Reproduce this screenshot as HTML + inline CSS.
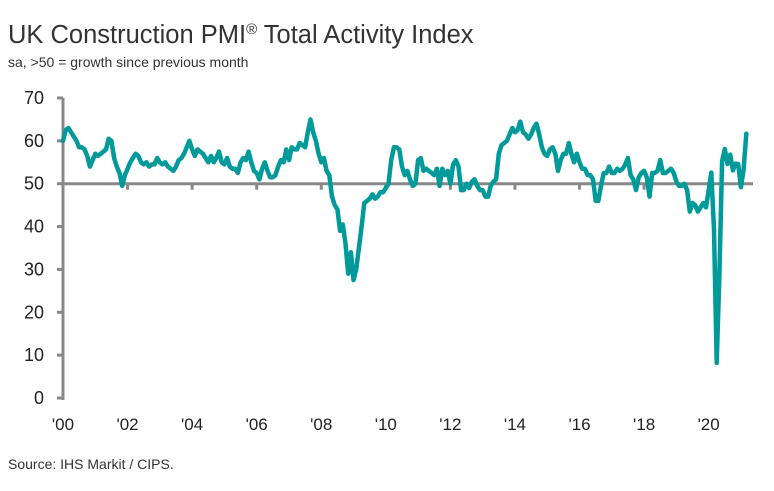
<!DOCTYPE html>
<html><head><meta charset="utf-8"><style>
body{margin:0;background:#fff;width:774px;height:486px;overflow:hidden;font-family:"Liberation Sans",sans-serif;}
</style></head><body>
<svg width="774" height="486">
<text x="8" y="43" font-size="25.5" fill="#333">UK Construction PMI<tspan font-size="15" dy="-9">®</tspan><tspan dy="9"> Total Activity Index</tspan></text>
<text x="8" y="67" font-size="14" fill="#333">sa, &gt;50 = growth since previous month</text>
<text x="8" y="469" font-size="14" fill="#333">Source: IHS Markit / CIPS.</text>
<g id="axes"></g>
<g id="plot"></g>
</svg>
<script>
const yTicks=[0,10,20,30,40,50,60,70];
const xTickLabels=["'00","'02","'04","'06","'08","'10","'12","'14","'16","'18","'20"];
const pmi=[
60,62.5,63,62,61,60,58.5,58.5,58,56.5,54,55.5,
57,56.5,57,57.5,58,60.5,60,56,54,52.5,49.5,52,
53.5,55,56,57,56.5,55,54.5,55,54,54.5,54.5,56,
55,54.5,55,54,53.5,53,54,55.5,56,57,58.5,60,
58,56.5,58,57.5,57,56,55,56.5,55,56,57.5,55,
54.5,56,54,53.5,53.5,52.5,55,56,55.5,57.5,55,53,
52.5,51,53.5,55,53,51.5,51.5,52,54,55.5,55,58,
55.5,58.5,58,58,59.5,59,58.5,62,65,62,60,57,
55,56,53,52,47,45,44,39,40.5,36,29,34,
27.5,30,35,40,45.5,46,46.5,47.5,46.5,47,48,48,
49,50,55.5,58.5,58.5,58,54,52,53,51,49.5,50,
55.5,56,53,53.5,53,52.5,52,53.5,49.5,53.5,52,53,
50,54.5,55.5,54,48.5,48.5,50,49,50.5,51,49.5,48.5,
48.5,47,47,49.5,50.5,51,57,59,59.5,60,61.5,63,
62,62.5,64.5,62,61.5,60.5,61.5,63,64,61.5,58.5,57,
56.5,58,58.5,57,53,55.5,57,57,59.5,57,55,57,
55,53.5,53.5,52,52,51,46,46,49.5,52.5,52.5,54,
52.5,52.5,53.5,53,53.5,54.5,56,52,51,48.5,51.5,52.5,
53,51.5,47,52.5,52.5,53,55.5,52.5,52.5,53,53.5,52.5,
50.5,49.5,49.5,50,48.5,43.5,45.5,45,43.5,44.5,45.5,44.5,
48.4,52.6,39.3,8.2,28.9,55.3,58.1,54.6,56.8,53.1,54.7,54.6,
49.2,53.3,61.7];
const NS='http://www.w3.org/2000/svg';
const X0=63,X1=749,Y0=398,Y70=98;
const x=i=>X0+i*(X1-X0)/255;
const y=v=>Y0-v*(Y0-Y70)/70;
const ax=document.getElementById('axes'),pl=document.getElementById('plot');
function mk(t,a,p){const e=document.createElementNS(NS,t);for(const k in a)e.setAttribute(k,a[k]);p.appendChild(e);return e;}
let e=mk('line',{x1:X0,y1:y(70),x2:X0,y2:Y0+2,stroke:'#888','stroke-width':3},ax);


yTicks.forEach(v=>{
 let t=mk('line',{x1:X0-6,y1:y(v),x2:X0,y2:y(v),stroke:'#888','stroke-width':3},ax);
 
 
 let l=mk('text',{x:44,y:y(v)+6,'font-size':18,fill:'#222','text-anchor':'end'},ax);
 l.textContent=v;
 
 
});
e=mk('line',{x1:X0,y1:y(50),x2:753,y2:y(50),stroke:'#888','stroke-width':3},ax);


xTickLabels.forEach((s,k)=>{
 const xi=x(k*24);
 let t=mk('line',{x1:xi,y1:y(50),x2:xi,y2:y(50)+6,stroke:'#888','stroke-width':3},ax);
 
 
 let l=mk('text',{x:xi,y:430,'font-size':17,fill:'#222','text-anchor':'middle'},ax);
 l.textContent=s;
 
 
});
const d=pmi.map((v,i)=>(i?'L':'M')+x(i).toFixed(1)+','+y(v).toFixed(1)).join('');
const p=mk('path',{d:d,fill:'none',stroke:'#009a9a','stroke-width':4.5,'stroke-linejoin':'round','stroke-linecap':'round'},pl);


</script>
</body></html>
